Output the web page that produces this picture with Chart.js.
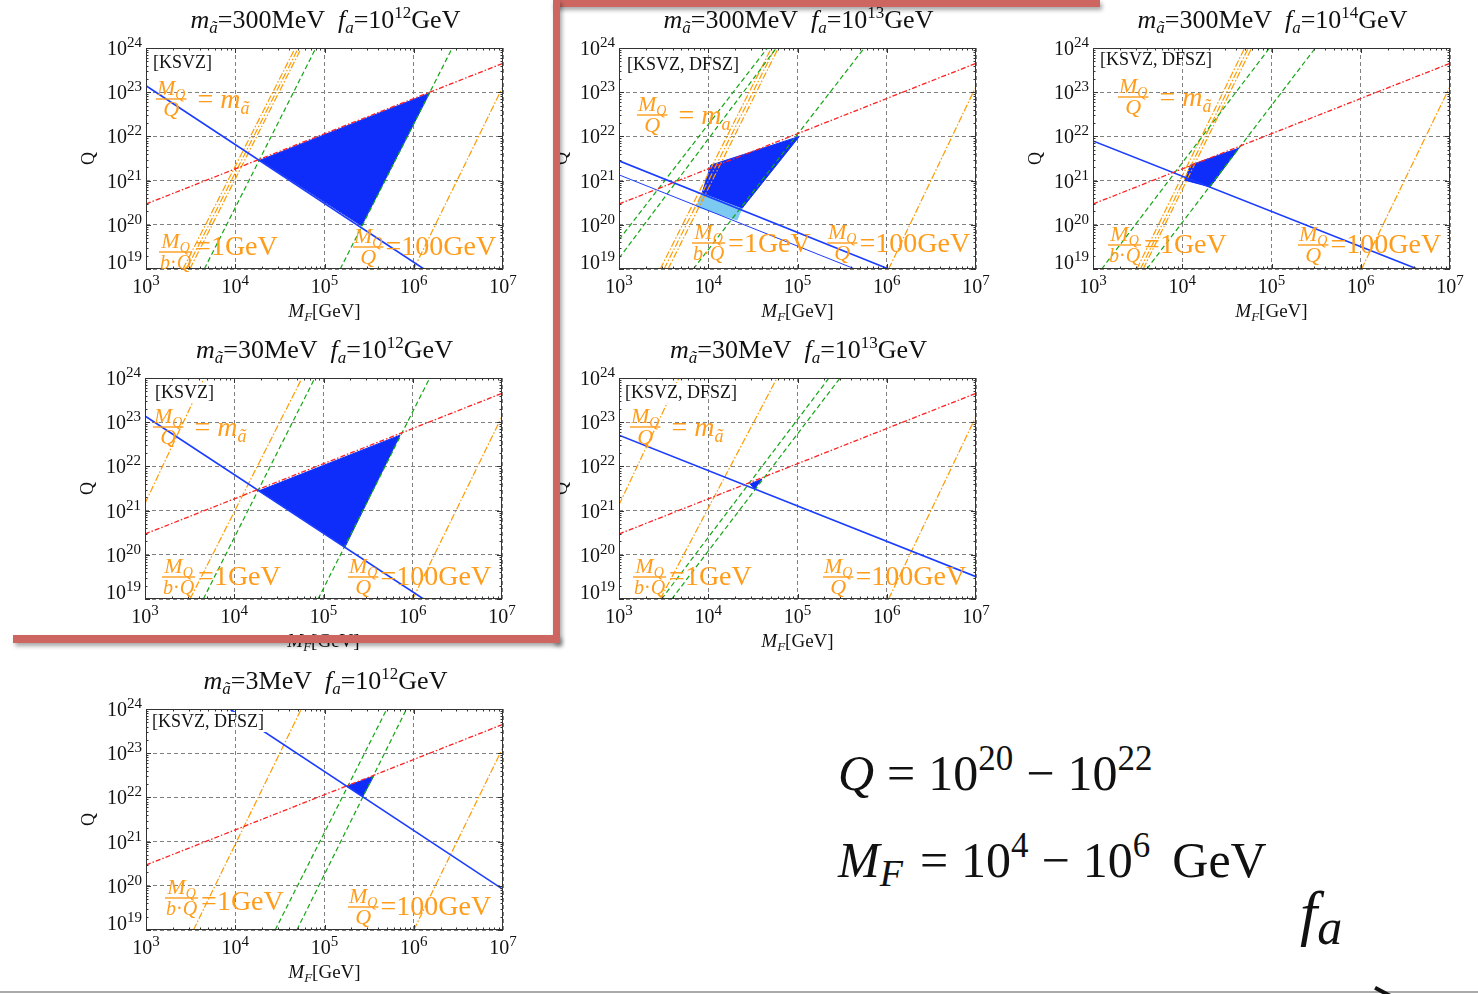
<!doctype html>
<html>
<head>
<meta charset="utf-8">
<title>Q vs M_F</title>
<script src="https://cdn.jsdelivr.net/npm/chart.js"></script>
<style>
  html, body { margin: 0; padding: 0; background: #fff; }
  body { position: relative; width: 1478px; height: 994px; overflow: hidden; font-family: "Liberation Serif", "DejaVu Serif", serif; }
  canvas { position: absolute; }
  .bar { position: absolute; background: #cd6660; box-shadow: 2px 3px 4px rgba(0,0,0,0.35); z-index: 5; }
  .tex { position: absolute; font-family: "Liberation Serif", "DejaVu Serif", serif; font-size: 50px; line-height: 1; white-space: nowrap; color: #111; }
  .up { font-size: 35px; position: relative; top: -20px; }
  .dn { font-size: 38px; position: relative; top: 9px; font-style: italic; margin-right: 4px; }
  .op { margin: 0 13px; }
</style>
</head>
<body>

<div class="bar" style="left:553px; top:0; width:547px; height:7px;"></div>
<div class="bar" style="left:553px; top:0; width:7px; height:643px;"></div>
<div class="bar" style="left:13px; top:635px; width:547px; height:8px;"></div>

<div class="tex" style="left:838px; top:748px;"><i>Q</i><span class="op">=</span>10<span class="up">20</span><span class="op">&minus;</span>10<span class="up">22</span></div>
<div class="tex" style="left:838px; top:835px;"><i>M</i><span class="dn">F</span><span class="op">=</span>10<span class="up">4</span><span class="op">&minus;</span>10<span class="up">6</span><span style="margin-left:22px;">GeV</span></div>
<div class="tex" style="left:1300px; top:882px; font-size:62px;"><i>f</i><span class="dn" style="font-size:50px; top:10px;">a</span></div>

<div style="position:absolute; left:0; top:991px; width:1478px; height:2px; background:#aaa;"></div>
<div style="position:absolute; left:1376px; top:986px; width:26px; height:4px; background:#111; transform:rotate(28deg); transform-origin:0 0;"></div>

<script>
const xTicks = [1e3, 1e4, 1e5, 1e6, 1e7];
const yTicks = [1e19, 1e20, 1e21, 1e22, 1e23, 1e24];
const masses = ['300MeV', '300MeV', '300MeV', '30MeV', '30MeV', '3MeV'];
const faExps = ['12', '13', '14', '12', '13', '12'];
const models = ['[KSVZ]', '[KSVZ, DFSZ]', '[KSVZ, DFSZ]', '[KSVZ]', '[KSVZ, DFSZ]', '[KSVZ, DFSZ]'];
const noteTails = ['ã', 'a', 'ã', 'ã', 'ã', null];

// M_Q/Q = m_a (red), identical in every panel
const redLine = [[1e3, 2.95e20], [1e7, 4.5e23]];

// panel 1 : 300MeV, 1e12
const p1Blue = [[1e3, 1.4e23], [1.3e6, 1e19]];
const p1Green = [[[4.5e3, 1e19], [8.0e4, 1e24]], [[1.5e5, 1e19], [2.7e6, 1e24]]];
const p1Orange = [[[2.6e3, 1e19], [4.7e4, 1e24]], [[2.85e3, 1e19], [5.1e4, 1e24]], [[3.1e3, 1e19], [5.5e4, 1e24]], [[1e6, 1e19], [1e7, 1.35e23]]];
const p1Fill = [[1.9e4, 2.9e21], [1.5e6, 9.5e22], [2.6e5, 9.5e19]];

// panel 2 : 300MeV, 1e13
const p2Blue = [[1e3, 2.8e21], [1.05e6, 1e19]];
const p2BlueThin = [[1e3, 1.35e21], [4.4e5, 1e19]];
const p2Green = [[[1e3, 4.6e19], [4.6e4, 1e24]], [[1e3, 1.75e19], [5.8e4, 1e24]], [[6.8e3, 1e19], [5.6e5, 1e24]]];
const p2Orange = [[[2.9e3, 1e19], [5.1e4, 1e24]], [[3.2e3, 1e19], [5.6e4, 1e24]], [[3.55e3, 1e19], [6.1e4, 1e24]], [[1.05e6, 1e19], [1e7, 1.35e23]]];
const p2Fill = [[1.07e4, 2.24e21], [1.05e5, 1e22], [2.37e4, 2.3e20], [8.5e3, 5.1e20]];
const p2Light = [[8.5e3, 5.1e20], [2.37e4, 2.3e20], [2.1e4, 1.29e20], [7.4e3, 2.57e20]];

// panel 3 : 300MeV, 1e14
const p3Blue = [[1e3, 7.9e21], [4.3e6, 1e19]];
const p3Green = [[[1.25e3, 1e19], [9.5e4, 1e24]], [[4e3, 1e19], [3.1e5, 1e24]]];
const p3Orange = [[[3.1e3, 1e19], [5e4, 1e24]], [[3.4e3, 1e19], [5.5e4, 1e24]], [[3.65e3, 1e19], [6e4, 1e24]], [[1.02e6, 1e19], [1e7, 1.35e23]]];
const p3Fill = [[1.23e4, 2.24e21], [4.3e4, 5.4e21], [2.05e4, 7.2e20], [1.07e4, 1.02e21]];

// panel 4 : 30MeV, 1e12
const p4Blue = [[1e3, 1.38e23], [1.32e6, 1e19]];
const p4Green = [[[4.5e3, 1e19], [8e4, 1e24]], [[8.7e4, 1e19], [1.55e6, 1e24]]];
const p4Orange = [[[1e3, 1.45e21], [4.6e3, 1e24]], [[3.2e3, 1e19], [5.75e4, 1e24]], [[1e6, 1e19], [1e7, 1.35e23]]];
const p4Fill = [[1.9e4, 2.8e21], [7.2e5, 5.1e22], [1.74e5, 1.5e20]];

// panel 5 : 30MeV, 1e13
const p5Blue = [[1e3, 5.1e22], [1e7, 3.2e19]];
const p5Green = [[[3e3, 1e19], [2.25e5, 1e24]], [[3.9e3, 1e19], [3e5, 1e24]]];
const p5Orange = [[[1e3, 1.35e21], [4.7e3, 1e24]], [[2.9e3, 1e19], [5.9e4, 1e24]], [[1.05e6, 1e19], [1e7, 1.35e23]]];
const p5Fill = [[2.95e4, 4e21], [4e4, 5.2e21], [3.3e4, 3.1e21]];

// panel 6 : 3MeV, 1e12
const p6Blue = [[8.7e3, 1e24], [1e7, 8.3e19]];
const p6Green = [[[2.8e4, 1e19], [5e5, 1e24]], [[4.9e4, 1e19], [8.3e5, 1e24]]];
const p6Orange = [[[3.4e3, 1e19], [5.5e4, 1e24]], [[1e6, 1e19], [1e7, 1.35e23]]];
const p6Fill = [[1.78e5, 1.8e22], [3.55e5, 3e22], [2.7e5, 1.07e22]];

const panelData = [
  { blue: p1Blue, thin: null, green: p1Green, orange: p1Orange, fill: p1Fill, light: null },
  { blue: p2Blue, thin: p2BlueThin, green: p2Green, orange: p2Orange, fill: p2Fill, light: p2Light },
  { blue: p3Blue, thin: null, green: p3Green, orange: p3Orange, fill: p3Fill, light: null },
  { blue: p4Blue, thin: null, green: p4Green, orange: p4Orange, fill: p4Fill, light: null },
  { blue: p5Blue, thin: null, green: p5Green, orange: p5Orange, fill: p5Fill, light: null },
  { blue: p6Blue, thin: null, green: p6Green, orange: p6Orange, fill: p6Fill, light: null }
];

// plot area position and the offsets of the orange notes (relative to the plot area)
const layout = [
  { left: 146, top: 48, topNote: [10, 51], bl: [13, 204, 207], br: [207, 199, 207], lab: [7, 20] },
  { left: 619, top: 48, topNote: [18, 67], bl: [73, 195, 204], br: [208, 195, 204], lab: [8, 22] },
  { left: 1093, top: 48, topNote: [25, 49], bl: [15, 197, 205], br: [205, 197, 205], lab: [7, 17] },
  { left: 145, top: 378, topNote: [8, 49], bl: [17, 199, 207], br: [203, 199, 207], lab: [10, 20] },
  { left: 619, top: 378, topNote: [11, 49], bl: [14, 199, 207], br: [204, 199, 207], lab: [6, 20] },
  { left: 146, top: 709, topNote: null, bl: [19, 189, 201], br: [202, 198, 206], lab: [6, 18] }
];

const PW = 357, PH = 221;
const PAD = { left: 80, top: 48, right: 30, bottom: 62 };
const SERIF = '"Liberation Serif", "DejaVu Serif", serif';
const ORANGE = '#ff9a00';
const NOTE = '#ff9c1a';

function font(size, italic) {
  return (italic ? 'italic ' : '') + size + 'px ' + SERIF;
}

function runsWidth(ctx, runs) {
  let w = 0;
  runs.forEach(r => { ctx.font = font(r[1], r[2]); w += ctx.measureText(r[0]).width; });
  return w;
}

function drawRuns(ctx, x, y, runs, align) {
  const w = runsWidth(ctx, runs);
  if (align === 'center') x -= w / 2;
  if (align === 'right') x -= w;
  ctx.textAlign = 'left';
  ctx.textBaseline = 'alphabetic';
  runs.forEach(r => {
    ctx.font = font(r[1], r[2]);
    ctx.fillText(r[0], x, y + (r[3] || 0));
    x += ctx.measureText(r[0]).width;
  });
  return x;
}

const NUM = [['M', 22, true], ['Q', 14, true, 4]];
const DEN_Q = [['Q', 22, true]];
const DEN_BQ = [['b', 20, true], ['·', 20, false], ['Q', 20, true]];

function frac(ctx, x, barY, num, den) {
  const wn = runsWidth(ctx, num), wd = runsWidth(ctx, den);
  const w = Math.max(wn, wd) + 2;
  drawRuns(ctx, x + (w - wn) / 2, barY - 4, num);
  drawRuns(ctx, x + (w - wd) / 2, barY + 17, den);
  ctx.fillRect(x, barY - 0.7, w, 1.4);
  return x + w;
}

const deco = {
  id: 'deco',
  afterDraw(chart, args, o) {
    const ctx = chart.ctx, a = chart.chartArea;
    const xs = chart.scales.x, ys = chart.scales.y;
    ctx.save();

    // model label on a white box, grid redrawn through it
    ctx.font = font(18, false);
    const lw = ctx.measureText(o.model).width;
    const lx = a.left + o.lab[0], ly = a.top + o.lab[1];
    ctx.fillStyle = '#fff';
    ctx.fillRect(lx - 2, ly - 15, lw + 4, 20);
    ctx.save();
    ctx.beginPath();
    ctx.rect(lx - 2, ly - 15, lw + 4, 20);
    ctx.clip();
    ctx.strokeStyle = '#808080';
    ctx.lineWidth = 1;
    ctx.setLineDash([4, 3]);
    xTicks.forEach(v => {
      const px = Math.round(xs.getPixelForValue(v)) + 0.5;
      ctx.beginPath(); ctx.moveTo(px, a.top); ctx.lineTo(px, a.bottom); ctx.stroke();
    });
    ctx.restore();
    ctx.fillStyle = '#111';
    ctx.textAlign = 'left';
    ctx.fillText(o.model, lx, ly);

    // frame and ticks on all four sides
    ctx.setLineDash([]);
    ctx.strokeStyle = '#333';
    ctx.lineWidth = 1;
    ctx.strokeRect(a.left + 0.5, a.top + 0.5, a.right - a.left - 1, a.bottom - a.top - 1);
    ctx.beginPath();
    for (let d = 3; d < 7; d++) {
      for (let m = 1; m < 10; m++) {
        const px = Math.round(xs.getPixelForValue(m * Math.pow(10, d))) + 0.5;
        const len = m === 1 ? 5 : 2.5;
        ctx.moveTo(px, a.bottom); ctx.lineTo(px, a.bottom - len);
        ctx.moveTo(px, a.top); ctx.lineTo(px, a.top + len);
      }
    }
    for (let d = 19; d < 24; d++) {
      for (let m = 1; m < 10; m++) {
        const py = Math.round(ys.getPixelForValue(m * Math.pow(10, d))) + 0.5;
        const len = m === 1 ? 5 : 2.5;
        ctx.moveTo(a.left, py); ctx.lineTo(a.left + len, py);
        ctx.moveTo(a.right, py); ctx.lineTo(a.right - len, py);
      }
    }
    ctx.stroke();

    // tick labels
    ctx.fillStyle = '#111';
    xTicks.forEach(v => {
      const px = xs.getPixelForValue(v);
      drawRuns(ctx, px, a.bottom + 24, [['10', 20], [String(Math.round(Math.log10(v))), 15, false, -8]], 'center');
    });
    yTicks.forEach(v => {
      const py = ys.getPixelForValue(v);
      drawRuns(ctx, a.left - 4, Math.min(py + 7, a.bottom), [['10', 20], [String(Math.round(Math.log10(v))), 15, false, -8]], 'right');
    });

    // axis titles
    const cx = (a.left + a.right) / 2;
    drawRuns(ctx, cx, a.bottom + 48, [['M', 19, true], ['F', 13, true, 4], ['[GeV]', 19]], 'center');
    ctx.save();
    ctx.translate(a.left - 52, (a.top + a.bottom) / 2);
    ctx.rotate(-Math.PI / 2);
    drawRuns(ctx, 0, 0, [['Q', 18]], 'center');
    ctx.restore();

    // panel title
    drawRuns(ctx, cx + 1, a.top - 20, [
      ['m', 26, true], ['ã', 17, true, 5], ['=' + o.mass, 26], ['  ', 26],
      ['f', 26, true], ['a', 17, true, 5], ['=10', 26], [o.fa, 17, false, -10], ['GeV', 26]
    ], 'center');

    // orange notes
    ctx.fillStyle = NOTE;
    if (o.topNote) {
      const by = a.top + o.topNote[1];
      const e = frac(ctx, a.left + o.topNote[0], by, NUM, DEN_Q);
      drawRuns(ctx, e + 11, by + 9, [['= ', 28], ['m', 28, true], [o.tail, 18, true, 6]]);
    }
    let by = a.top + o.bl[1];
    let e = frac(ctx, a.left + o.bl[0], by, NUM, DEN_BQ);
    drawRuns(ctx, e + 3, a.top + o.bl[2], [['=1GeV', 28]]);
    by = a.top + o.br[1];
    e = frac(ctx, a.left + o.br[0], by, NUM, DEN_Q);
    drawRuns(ctx, e + 2, a.top + o.br[2], [['=100GeV', 28]]);

    ctx.restore();
  }
};

const pts = arr => arr.map(p => ({ x: p[0], y: p[1] }));

function lineSet(arr, color, width, dash) {
  return { data: pts(arr), borderColor: color, borderWidth: width, borderDash: dash, pointRadius: 0, fill: false };
}

function areaSet(arr, color) {
  return { data: pts(arr.concat([arr[0]])), borderColor: color, backgroundColor: color, borderWidth: 1, pointRadius: 0, fill: 'shape' };
}

function makePanel(i) {
  const L = layout[i], D = panelData[i];
  const canvas = document.createElement('canvas');
  canvas.width = PAD.left + PW + PAD.right;
  canvas.height = PAD.top + PH + PAD.bottom;
  canvas.style.left = (L.left - PAD.left) + 'px';
  canvas.style.top = (L.top - PAD.top) + 'px';
  document.body.appendChild(canvas);

  const datasets = [];
  datasets.push(lineSet(redLine, '#ff2020', 1.3, [5, 2, 1.5, 2]));
  datasets.push(lineSet(D.blue, '#1a3cff', 1.6, []));
  if (D.thin) datasets.push(lineSet(D.thin, '#1a3cff', 1, []));
  D.green.forEach(g => datasets.push(lineSet(g, '#12a612', 1.2, [5, 3])));
  D.orange.forEach(g => datasets.push(lineSet(g, ORANGE, 1.2, [7, 2, 1.5, 2])));
  if (D.light) datasets.push(areaSet(D.light, '#7cc9f2'));
  datasets.push(areaSet(D.fill, '#0f2dfa'));

  new Chart(canvas, {
    type: 'line',
    data: { datasets: datasets },
    options: {
      responsive: false,
      animation: false,
      devicePixelRatio: 1,
      layout: { padding: PAD },
      plugins: {
        legend: { display: false },
        tooltip: { enabled: false },
        deco: { model: models[i], mass: masses[i], fa: faExps[i], tail: noteTails[i], topNote: L.topNote, bl: L.bl, br: L.br, lab: L.lab }
      },
      scales: {
        x: {
          type: 'logarithmic', min: 1e3, max: 1e7,
          afterBuildTicks: s => { s.ticks = xTicks.map(v => ({ value: v })); },
          afterFit: s => { s.height = 0; },
          ticks: { display: false },
          grid: { color: '#808080', lineWidth: 1, drawTicks: false },
          border: { display: false, dash: [4, 3] }
        },
        y: {
          type: 'logarithmic', min: 1e19, max: 1e24,
          afterBuildTicks: s => { s.ticks = yTicks.map(v => ({ value: v })); },
          afterFit: s => { s.width = 0; },
          ticks: { display: false },
          grid: { color: '#808080', lineWidth: 1, drawTicks: false },
          border: { display: false, dash: [4, 3] }
        }
      }
    },
    plugins: [deco]
  });
}

for (let i = 0; i < 6; i++) makePanel(i);
</script>
</body>
</html>
